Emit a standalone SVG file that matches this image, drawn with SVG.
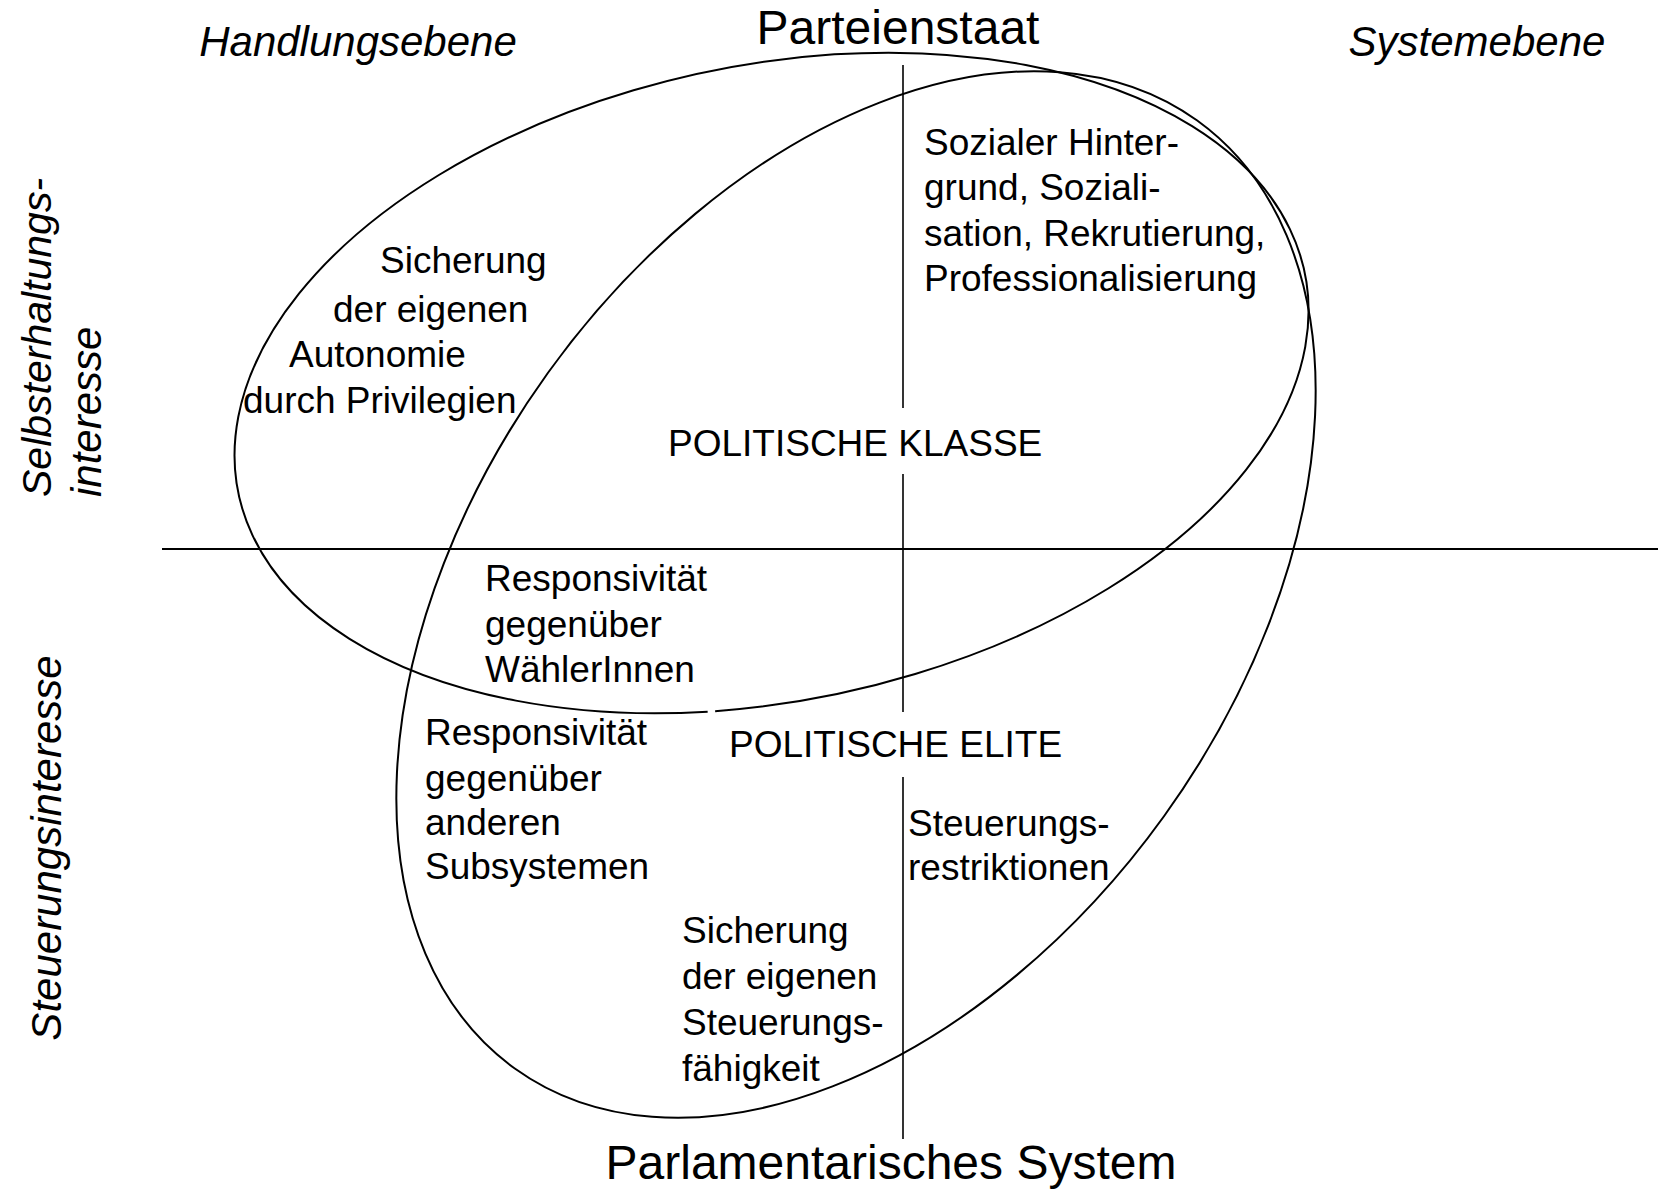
<svg xmlns="http://www.w3.org/2000/svg" width="1658" height="1189" viewBox="0 0 1658 1189">
<style>
text{font-family:"Liberation Sans",Arial,sans-serif;fill:#000}
.t{font-size:37px}
.big{font-size:48px}
.it{font-size:42px;font-style:italic}
.shape{fill:none;stroke:#000;stroke-width:2}
.axis{fill:none;stroke:#000;stroke-width:1.6}
</style>
<rect width="1658" height="1189" fill="#fff"/>
<g id="axes">
<line class="axis" x1="162" y1="549" x2="1658" y2="549" style="stroke-width:2.2"/>
<line class="axis" x1="903" y1="65" x2="903" y2="408"/>
<line class="axis" x1="903" y1="474" x2="903" y2="712"/>
<line class="axis" x1="903" y1="777" x2="903" y2="1139"/>
</g>
<g id="politische-klasse">
<path class="shape" d="M707.66,711.64 A546,318 -11.65 0 1 834.34,54.36 A546,318 -11.65 0 1 715.13,711.13"/>
<text class="t" x="668" y="456">POLITISCHE KLASSE</text>
</g>
<g id="politische-elite">
<ellipse class="shape" cx="856" cy="594.5" rx="584" ry="379.5" transform="rotate(-54.25 856 594.5)"/>
<text class="t" x="729" y="757">POLITISCHE ELITE</text>
</g>
<g id="axis-labels">
<text class="big" x="898" y="44" text-anchor="middle">Parteienstaat</text>
<text class="big" x="891" y="1179" text-anchor="middle">Parlamentarisches System</text>
<text class="it" x="358" y="56" text-anchor="middle">Handlungsebene</text>
<text class="it" x="1477" y="56" text-anchor="middle">Systemebene</text>
<text class="it" transform="translate(51 497) rotate(-90)" style="font-size:41px">Selbsterhaltungs-</text>
<text class="it" transform="translate(101 497) rotate(-90)">interesse</text>
<text class="it" transform="translate(61 848) rotate(-90)" text-anchor="middle">Steuerungsinteresse</text>
</g>
<g id="autonomie">
<text class="t" x="380" y="273">Sicherung</text>
<text class="t" x="333" y="322">der eigenen</text>
<text class="t" x="289" y="367">Autonomie</text>
<text class="t" x="243" y="413">durch Privilegien</text>
</g>
<g id="sozialer-hintergrund">
<text class="t" x="924" y="155">Sozialer Hinter-</text>
<text class="t" x="924" y="200">grund, Soziali-</text>
<text class="t" x="924" y="246">sation, Rekrutierung,</text>
<text class="t" x="924" y="291">Professionalisierung</text>
</g>
<g id="responsivitaet-waehler">
<text class="t" x="485" y="591">Responsivität</text>
<text class="t" x="485" y="637">gegenüber</text>
<text class="t" x="485" y="682">WählerInnen</text>
</g>
<g id="responsivitaet-subsysteme">
<text class="t" x="425" y="745">Responsivität</text>
<text class="t" x="425" y="791">gegenüber</text>
<text class="t" x="425" y="835">anderen</text>
<text class="t" x="425" y="879">Subsystemen</text>
</g>
<g id="steuerungsrestriktionen">
<text class="t" x="908" y="836">Steuerungs-</text>
<text class="t" x="908" y="880">restriktionen</text>
</g>
<g id="steuerungsfaehigkeit">
<text class="t" x="682" y="943">Sicherung</text>
<text class="t" x="682" y="989">der eigenen</text>
<text class="t" x="682" y="1035">Steuerungs-</text>
<text class="t" x="682" y="1081">fähigkeit</text>
</g>
</svg>
